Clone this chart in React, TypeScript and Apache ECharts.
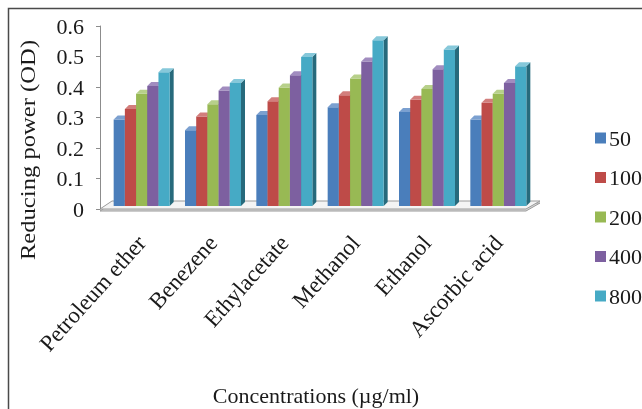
import React, { useEffect, useRef } from "react";
import * as echarts from "echarts";

const categories = ["Petroleum ether", "Benezene", "Ethylacetate", "Methanol", "Ethanol", "Ascorbic acid"];
const concentrations = ["50", "100", "200", "400", "800"];
const values50 = [0.29, 0.255, 0.305, 0.33, 0.315, 0.29];
const values100 = [0.325, 0.3, 0.35, 0.37, 0.355, 0.345];
const values200 = [0.375, 0.34, 0.395, 0.425, 0.39, 0.375];
const values400 = [0.4, 0.385, 0.435, 0.48, 0.455, 0.41];
const values800 = [0.445, 0.41, 0.495, 0.55, 0.52, 0.465];
const seriesValues = [values50, values100, values200, values400, values800];

const frontColors = ["#4a7ebb", "#be4b48", "#98b954", "#7d60a0", "#46aac5"];
const sideColors = ["#2c4d75", "#772c2a", "#5f7530", "#4d3b62", "#276a7c"];
const topColors = ["#7ba0d0", "#d27e7c", "#b7d08a", "#a18cbf", "#86c8da"];

const FONT = '"Liberation Serif", "Times New Roman", serif';

export default function App() {
  const ref = useRef<HTMLDivElement>(null);
  useEffect(() => {
    if (!ref.current) return;
    const chart = echarts.init(ref.current, undefined, { renderer: "svg" });
    const depth = 4;
    const makeRender = (idx: number) => (params: any, api: any) => {
      const cat = api.value(0);
      const val = api.value(1);
      const top = api.coord([cat, val]);
      const base = api.coord([cat, 0]);
      const band = api.size([1, 0])[0];
      const bw = band * 0.157;
      const x0 = top[0] - 2.5 * bw + idx * bw;
      const yt = top[1] - 1;
      const yb = base[1] - 3;
      return {
        type: "group",
        children: [
          {
            type: "polygon",
            shape: { points: [[x0 + bw, yt], [x0 + bw + depth, yt - depth], [x0 + bw + depth, yb - depth], [x0 + bw, yb]] },
            style: { fill: sideColors[idx] },
          },
          {
            type: "rect",
            shape: { x: x0, y: yt, width: bw, height: yb - yt },
            style: { fill: frontColors[idx] },
          },
          {
            type: "polygon",
            shape: { points: [[x0, yt], [x0 + depth, yt - depth], [x0 + bw + depth, yt - depth], [x0 + bw, yt]] },
            style: { fill: topColors[idx] },
          },
        ],
      };
    };

    chart.setOption({
      animation: false,
      grid: { left: 106, right: 108, top: 26, bottom: 200, containLabel: false },
      legend: {
        orient: "vertical",
        left: 590,
        top: 122,
        itemWidth: 11,
        itemHeight: 11,
        itemGap: 17.5,
        icon: "rect",
        data: concentrations,
        textStyle: { fontSize: 22, fontFamily: FONT, color: "#1a1a1a", padding: [0, 0, 0, -2] },
      },
      xAxis: {
        type: "category",
        data: categories,
        axisLine: { show: false },
        axisTick: { show: false },
        axisLabel: { rotate: 48, margin: 30, fontSize: 23, fontFamily: FONT, color: "#1a1a1a", interval: 0 },
      },
      yAxis: {
        type: "value",
        min: 0,
        max: 0.6,
        interval: 0.1,
        offset: 6,
        axisLine: { show: true, lineStyle: { color: "#8c8c8c", width: 1 } },
        axisTick: { show: true, length: 4, lineStyle: { color: "#8c8c8c" } },
        splitLine: { show: false },
        axisLabel: {
          margin: 16,
          fontSize: 22,
          fontFamily: FONT,
          color: "#1a1a1a",
          formatter: (v: number) => (v === 0 ? "0" : v.toFixed(1)),
        },
      },
      graphic: [
        {
          type: "rect",
          z: 0,
          shape: { x: 8.5, y: 8.5, width: 700, height: 500 },
          style: { fill: "none", stroke: "#4a4a4a", lineWidth: 1.5 },
        },
        {
          type: "polygon",
          z: 0,
          shape: { points: [[100, 211], [526, 211], [540, 203], [112, 203]] },
          style: { fill: "#d9d9d9", stroke: "#9a9a9a", lineWidth: 1 },
        },
        {
          type: "polygon",
          z: 0,
          shape: { points: [[100, 209], [526, 209], [540, 201], [112, 201]] },
          style: { fill: "#f4f4f4", stroke: "#9a9a9a", lineWidth: 1 },
        },
        {
          type: "text",
          x: 27,
          y: 150,
          rotation: Math.PI / 2,
          scaleX: 1.12,
          style: {
            text: "Reducing power (OD)",
            fontSize: 22,
            fontFamily: FONT,
            fill: "#1a1a1a",
            align: "center",
            verticalAlign: "middle",
          },
        },
        {
          type: "text",
          x: 316,
          y: 395,
          style: {
            text: "Concentrations (µg/ml)",
            fontSize: 22,
            fontFamily: FONT,
            fill: "#1a1a1a",
            align: "center",
            verticalAlign: "middle",
          },
        },
      ],
      series: seriesValues.map((vals, idx) => ({
        type: "custom",
        name: concentrations[idx],
        itemStyle: { color: frontColors[idx] },
        encode: { x: 0, y: 1 },
        data: vals.map((v, i) => [i, v]),
        renderItem: makeRender(idx),
      })),
    });
    return () => chart.dispose();
  }, []);
  return <div ref={ref} style={{ position: "fixed", left: 0, top: 0, width: 642, height: 409 }} />;
}
